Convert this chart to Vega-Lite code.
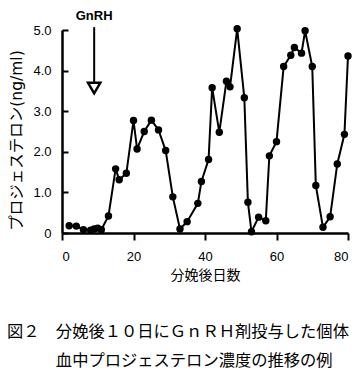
{
  "$schema": "https://vega.github.io/schema/vega-lite/v6.json",
  "autosize": "none",
  "width": 286,
  "height": 203,
  "padding": {"left": 62, "top": 30, "right": 16, "bottom": 141},
  "background": "white",
  "config": {"view": {"stroke": null}},
  "title": {
    "text": ["図２　分娩後１０日にＧｎＲＨ剤投与した個体", "\u200b　　　血中プロジェステロン濃度の推移の例"],
    "orient": "bottom",
    "anchor": "start",
    "frame": "group",
    "dx": -55,
    "offset": 42,
    "font": "Noto Sans CJK JP",
    "fontSize": 16.3,
    "fontWeight": "normal",
    "lineHeight": 29,
    "color": "black"
  },
  "datasets": {
    "prog": [
      {"day": 2, "value": 0.18},
      {"day": 4, "value": 0.17},
      {"day": 6, "value": 0.08},
      {"day": 8, "value": 0.07},
      {"day": 9, "value": 0.1},
      {"day": 10, "value": 0.12},
      {"day": 11, "value": 0.08},
      {"day": 13, "value": 0.42},
      {"day": 15, "value": 1.58},
      {"day": 16, "value": 1.31},
      {"day": 18, "value": 1.47},
      {"day": 20, "value": 2.77},
      {"day": 21, "value": 2.07},
      {"day": 23, "value": 2.5},
      {"day": 25, "value": 2.78},
      {"day": 27, "value": 2.54},
      {"day": 29, "value": 2.03},
      {"day": 31, "value": 0.89},
      {"day": 33, "value": 0.1},
      {"day": 35, "value": 0.28},
      {"day": 38, "value": 0.73},
      {"day": 39, "value": 1.27},
      {"day": 41, "value": 1.81},
      {"day": 42, "value": 3.58},
      {"day": 44, "value": 2.48},
      {"day": 46, "value": 3.74},
      {"day": 47, "value": 3.6},
      {"day": 49, "value": 5.03},
      {"day": 51, "value": 3.33},
      {"day": 52, "value": 0.76},
      {"day": 53, "value": 0.03},
      {"day": 55, "value": 0.39},
      {"day": 57, "value": 0.3},
      {"day": 58, "value": 1.9},
      {"day": 60, "value": 2.25},
      {"day": 62, "value": 4.1},
      {"day": 64, "value": 4.38},
      {"day": 65, "value": 4.57},
      {"day": 67, "value": 4.43},
      {"day": 68, "value": 4.98},
      {"day": 70, "value": 4.1},
      {"day": 71, "value": 1.17},
      {"day": 73, "value": 0.14},
      {"day": 75, "value": 0.4},
      {"day": 77, "value": 1.7},
      {"day": 79, "value": 2.43},
      {"day": 80, "value": 4.36}
    ],
    "gnrh": [
      {"label": "GnRH", "day": 9}
    ]
  },
  "layer": [
    {
      "data": {"name": "prog"},
      "mark": {"type": "line", "color": "black", "strokeWidth": 2, "point": {"filled": true, "color": "black", "size": 55}},
      "encoding": {
        "x": {
          "field": "day", "type": "quantitative",
          "scale": {"domain": [0, 80], "nice": false, "zero": false},
          "axis": {
            "values": [0, 10, 20, 30, 40, 50, 60, 70, 80],
            "labelExpr": "datum.value % 20 === 0 ? datum.label : ''",
            "title": "分娩後日数",
            "titleFont": "Noto Sans CJK JP",
            "titleFontSize": 14,
            "titleFontWeight": "normal",
            "titleColor": "black",
            "titlePadding": 5,
            "labelFont": "Liberation Sans",
            "labelFontSize": 13,
            "labelColor": "black",
            "labelPadding": 10,
            "domainColor": "black",
            "domainWidth": 2.5,
            "tickColor": "black",
            "tickWidth": 2,
            "tickSize": {"condition": {"test": "datum.value % 20 === 0", "value": 7}, "value": 4},
            "grid": false
          }
        },
        "y": {
          "field": "value", "type": "quantitative",
          "scale": {"domain": [0, 5], "nice": false},
          "axis": {
            "values": [0, 1, 2, 3, 4, 5],
            "labelExpr": "datum.value === 0 ? '0' : format(datum.value, '.1f')",
            "title": "プロジェステロン(ng/ml)",
            "titleFont": "DejaVu Sans, Noto Sans CJK JP",
            "titleFontSize": 15.5,
            "titleFontWeight": "normal",
            "titleColor": "black",
            "titleY": 110,
            "titlePadding": 8,
            "labelFont": "Liberation Sans",
            "labelFontSize": 13,
            "labelColor": "black",
            "labelPadding": 17,
            "domainColor": "black",
            "domainWidth": 2.5,
            "tickColor": "black",
            "tickWidth": 2,
            "tickSize": -6,
            "grid": false
          }
        }
      }
    },
    {
      "data": {"name": "gnrh"},
      "mark": {"type": "rule", "color": "black", "strokeWidth": 2},
      "encoding": {
        "x": {"field": "day", "type": "quantitative"},
        "y": {"datum": 5.07, "type": "quantitative"},
        "y2": {"datum": 3.72}
      }
    },
    {
      "data": {"name": "gnrh"},
      "mark": {"type": "point", "shape": "triangle-down", "filled": true, "fill": "white", "stroke": "black", "strokeWidth": 2.5, "size": 150, "opacity": 1},
      "encoding": {
        "x": {"field": "day", "type": "quantitative"},
        "y": {"datum": 3.57, "type": "quantitative"}
      }
    },
    {
      "data": {"name": "gnrh"},
      "mark": {"type": "text", "font": "Liberation Sans", "fontSize": 13, "fontWeight": "bold", "color": "black", "baseline": "middle", "align": "center"},
      "encoding": {
        "x": {"field": "day", "type": "quantitative"},
        "y": {"datum": 5.34, "type": "quantitative"},
        "text": {"field": "label"}
      }
    }
  ]
}
